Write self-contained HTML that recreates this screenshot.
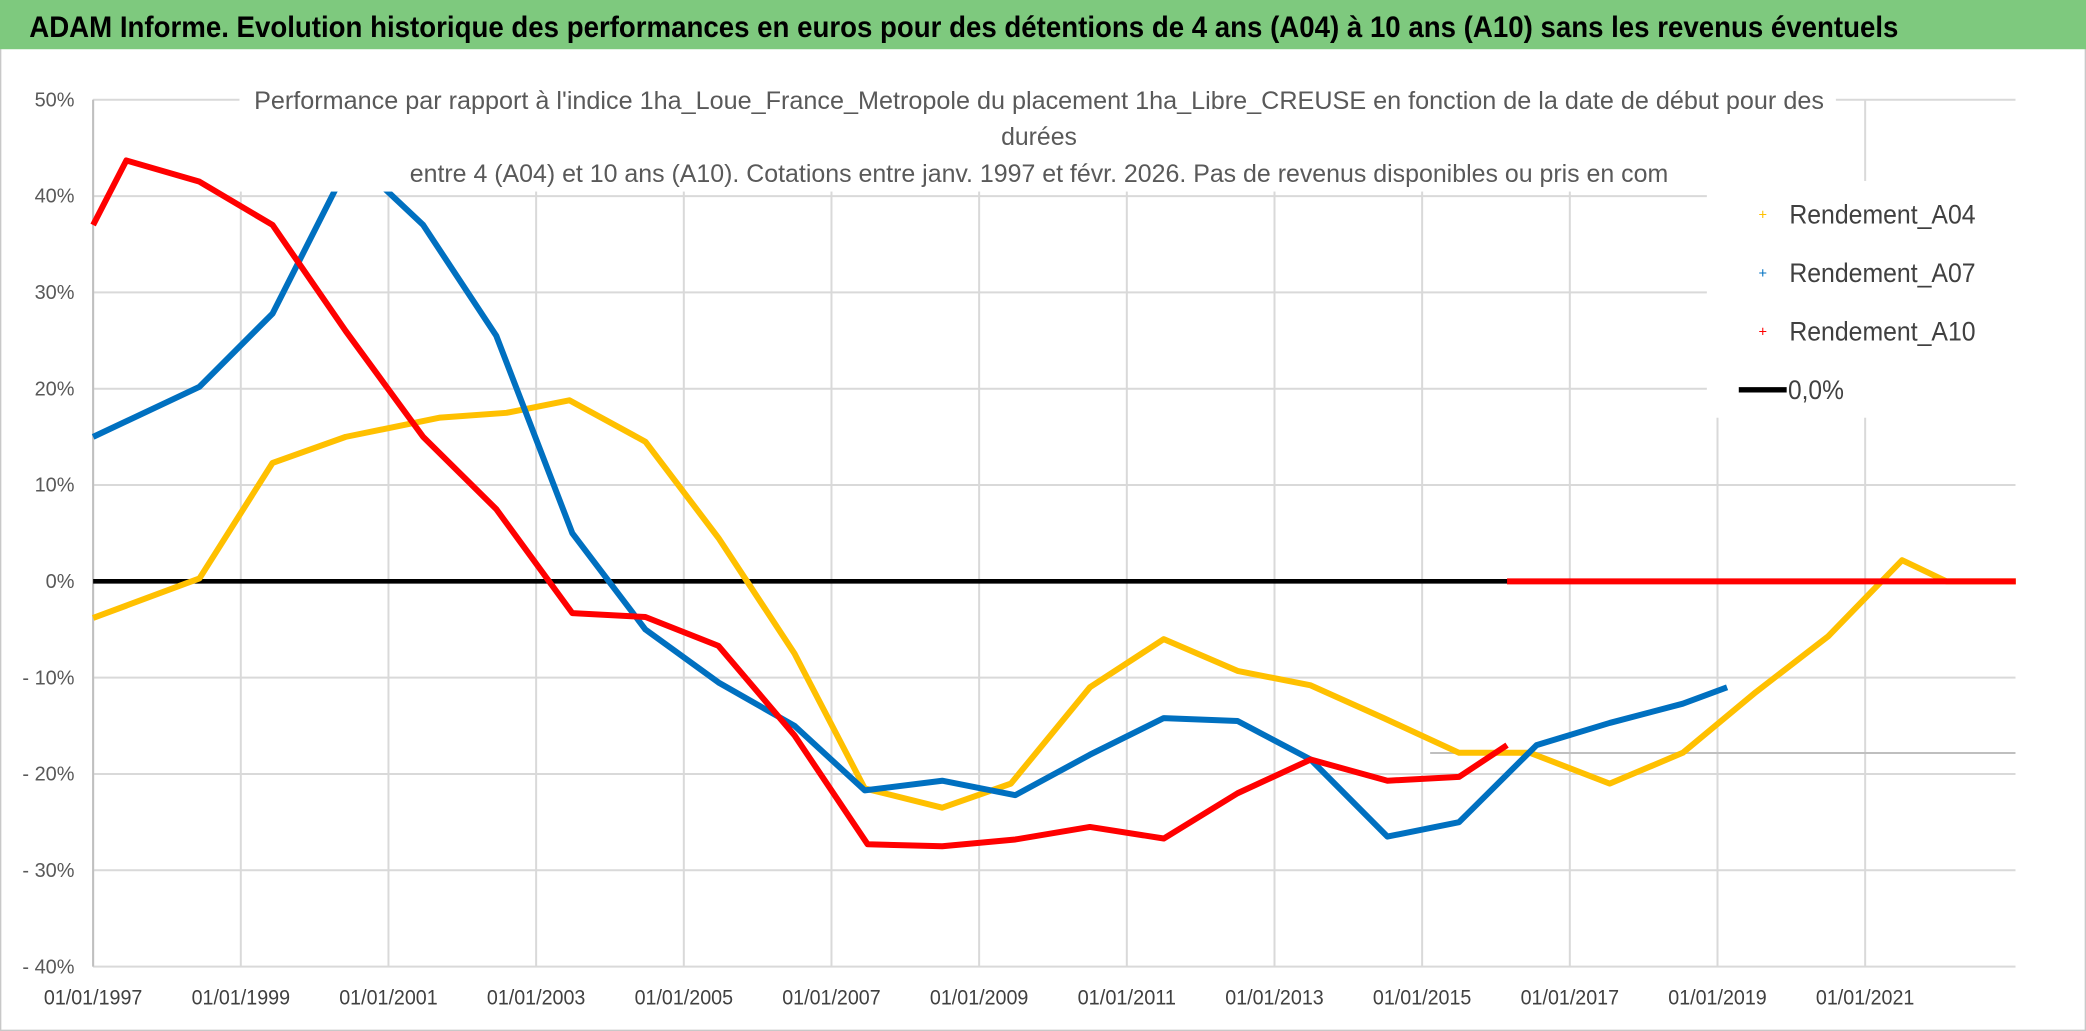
<!DOCTYPE html>
<html><head><meta charset="utf-8"><style>
html,body{margin:0;padding:0;background:#fff;}
svg{display:block;font-family:"Liberation Sans",sans-serif;}
</style></head><body>
<svg id="chart" width="2086" height="1031" viewBox="0 0 1568 775" preserveAspectRatio="none" xmlns="http://www.w3.org/2000/svg">
<rect x="0" y="0" width="1568" height="775" fill="#fff" stroke="#c8c8c8" stroke-width="2"/>
<rect x="0" y="0" width="1568" height="37" fill="#7ec97e"/>
<text x="22" y="28" font-size="22" font-weight="bold" fill="#000" textLength="1405" lengthAdjust="spacingAndGlyphs">ADAM Informe. Evolution historique des performances en euros pour des détentions de 4 ans (A04) à 10 ans (A10) sans les revenus éventuels</text>
<g id="grid"></g>
<g id="series"></g>
<rect x="180" y="58" width="1200" height="86" fill="#fff"/>
<g fill="#595959" font-size="19" text-anchor="middle">
<text x="781" y="82" textLength="1180" lengthAdjust="spacingAndGlyphs">Performance par rapport à l'indice 1ha_Loue_France_Metropole  du placement 1ha_Libre_CREUSE en fonction de la date de début pour des</text>
<text x="781" y="109" textLength="57" lengthAdjust="spacingAndGlyphs">durées</text>
<text x="781" y="137" textLength="946" lengthAdjust="spacingAndGlyphs">entre 4 (A04) et 10 ans (A10). Cotations entre janv. 1997 et févr. 2026. Pas de revenus disponibles ou pris en com</text>
</g>
<g id="axes"></g>
<g>
<rect x="1283" y="136" width="232" height="178" fill="#fff"/>
<g><text x="1325" y="165" font-size="11" fill="#ffc000" text-anchor="middle">+</text><text x="1345" y="168" font-size="20" fill="#404040" textLength="140" lengthAdjust="spacingAndGlyphs">Rendement_A04</text></g>
<g><text x="1325" y="209" font-size="11" fill="#0070c0" text-anchor="middle">+</text><text x="1345" y="212" font-size="20" fill="#404040" textLength="140" lengthAdjust="spacingAndGlyphs">Rendement_A07</text></g>
<g><text x="1325" y="253" font-size="11" fill="#ff0000" text-anchor="middle">+</text><text x="1345" y="256" font-size="20" fill="#404040" textLength="140" lengthAdjust="spacingAndGlyphs">Rendement_A10</text></g>
<g><line x1="1307" y1="293" x2="1343" y2="293" stroke="#000" stroke-width="4"/><text x="1344" y="300" font-size="20" fill="#404040" textLength="42" lengthAdjust="spacingAndGlyphs">0,0%</text></g>
</g>
</svg>
<script>
const xTicks=[1997,1999,2001,2003,2005,2007,2009,2011,2013,2015,2017,2019,2021];
const yTicks=[50,40,30,20,10,0,-10,-20,-30,-40];
const yLabels=["50%","40%","30%","20%","10%","0%","- 10%","- 20%","- 30%","- 40%"];
const a04Years=[1997,1998.44,1999.43,2000.42,2001.7,2002.6,2003.45,2004.48,2005.47,2006.5,2007.45,2008.5,2009.43,2010.5,2011.5,2012.5,2013.49,2014.48,2015.5,2016.46,2017.54,2018.53,2019.52,2020.5,2021.5,2022.1,2023.04];
const a04Values=[-3.8,0.3,12.3,15,17,17.5,18.8,14.5,4.5,-7.5,-21.5,-23.5,-21,-11,-6,-9.3,-10.8,-14.2,-17.8,-17.8,-21,-17.8,-11.5,-5.7,2.2,0,0];
const a07Years=[1997,1998.44,1999.43,2000.5,2001.47,2002.46,2003.49,2004.48,2005.47,2006.5,2007.45,2008.5,2009.49,2010.5,2011.5,2012.5,2013.49,2014.53,2015.5,2016.55,2017.54,2018.53,2019.13];
const a07Values=[15,20.2,27.8,44,37,25.5,5,-5,-10.5,-15,-21.7,-20.7,-22.2,-18,-14.2,-14.5,-18.5,-26.5,-25,-17,-14.7,-12.7,-11];
const a10Years=[1997,1997.45,1998.44,1999.43,2000.42,2001.47,2002.46,2003.49,2004.48,2005.47,2006.5,2007.49,2008.5,2009.49,2010.5,2011.5,2012.5,2013.49,2014.53,2015.5,2016.15];
const a10Values=[37,43.7,41.5,37,26,15,7.5,-3.3,-3.7,-6.7,-16,-27.3,-27.5,-26.8,-25.5,-26.7,-22,-18.5,-20.7,-20.3,-17];
const a10ZeroYears=[2016.15,2023.04];
const a10ZeroValues=[0,0];
const X0=70,PX_PER_YEAR=55.5,Y0=437,PX_PER_PCT=7.24,XEND=1515;
function xs(y){return X0+(y-1997)*PX_PER_YEAR;}
function ys(v){return Y0-v*PX_PER_PCT;}
const NS="http://www.w3.org/2000/svg";
function mk(tag,attrs,parent){const e=document.createElementNS(NS,tag);for(const k in attrs)e.setAttribute(k,attrs[k]);parent.appendChild(e);return e;}
const grid=document.getElementById('grid'),axes=document.getElementById('axes'),series=document.getElementById('series');
yTicks.forEach((t,i)=>{
 const l=mk('line',{x1:X0,x2:XEND,y1:ys(t),y2:ys(t),stroke:'#d9d9d9','stroke-width':1.5},grid);
 
 
 const tx=mk('text',{x:56,y:ys(t)+5,'font-size':15,fill:'#595959','text-anchor':'end'},axes);
 tx.textContent=yLabels[i];
 
 
});
xTicks.forEach(t=>{
 const l=mk('line',{x1:xs(t),x2:xs(t),y1:ys(50),y2:ys(-40),stroke:'#d9d9d9','stroke-width':1.5},grid);
 
 
 const tx=mk('text',{x:xs(t),y:755,'font-size':16,fill:'#404040','text-anchor':'middle',textLength:74,lengthAdjust:'spacingAndGlyphs'},axes);
 tx.textContent='01/01/'+t;
 
 
});
const ax=mk('line',{x1:X0,x2:X0,y1:ys(50),y2:ys(-40),stroke:'#bfbfbf','stroke-width':1.5},grid);


const extra=mk('line',{x1:1075,x2:XEND,y1:566,y2:566,stroke:'#bfbfbf','stroke-width':1.5},grid);


const zero=mk('line',{x1:X0,x2:XEND,y1:ys(0),y2:ys(0),stroke:'#000','stroke-width':3.5},series);


function line(yrs,vals,color,name){
 const p=mk('polyline',{points:yrs.map((y,i)=>xs(y)+','+ys(vals[i])).join(' '),fill:'none',stroke:color,'stroke-width':4.5,'stroke-linejoin':'round'},series);
 
 
}
line(a04Years,a04Values,'#ffc000','series-a04');
line(a07Years,a07Values,'#0070c0','series-a07');
line(a10Years,a10Values,'#ff0000','series-a10');
line(a10ZeroYears,a10ZeroValues,'#ff0000','series-a10-zero');
</script>
</body></html>
